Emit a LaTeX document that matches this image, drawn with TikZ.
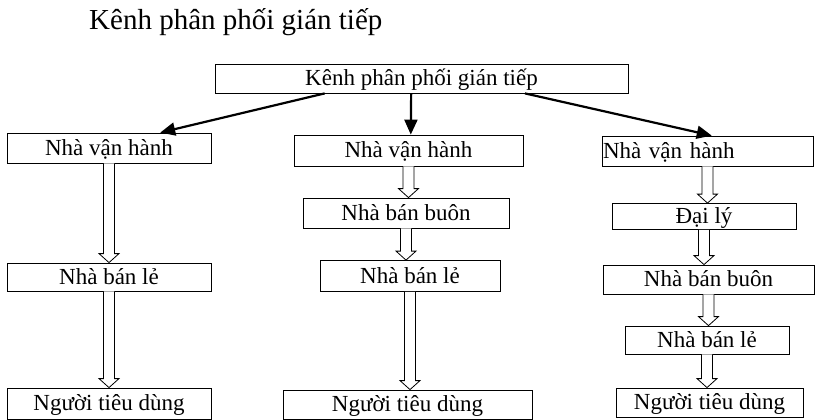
\documentclass[tikz,border=0pt]{standalone}
\usepackage{fontspec}
\setmainfont{Liberation Serif}
\usetikzlibrary{calc,arrows.meta}

% Block arrow between two stacked boxes: outline only, shaft + head
\newcommand\hollowarrow[2]{%
  \draw[hollow] let \p1=(#1.south), \p2=(#2.north) in
    (\x1-5.5pt,\y1) -- (\x1-5.5pt,\y2+9pt) -- (\x1-10pt,\y2+9pt) -- (\x1,\y2)
    -- (\x1+10pt,\y2+9pt) -- (\x1+5.5pt,\y2+9pt) -- (\x1+5.5pt,\y1);}

\begin{document}
\begin{tikzpicture}[x=1pt,y=-1pt,
  box/.style={draw, line width=0.8pt, inner xsep=1pt, inner ysep=0pt,
    font=\fontsize{23}{26}\selectfont, text height=18pt, text depth=4pt},
  hollow/.style={draw, line width=0.8pt, fill=white},
  feed/.style={line width=2.2pt, -{Triangle[length=15pt,width=13pt]}}]
\useasboundingbox (0,0) rectangle (815,420);

% heading
\node[anchor=base west, inner sep=0pt, font=\fontsize{29}{32}\selectfont] (title) at (89,30) {Kênh phân phối gián tiếp};

% root
\node[box, minimum width=413pt, minimum height=29pt] (top) at (421.5,78.5) {Kênh phân phối gián tiếp};

% left chain
\node[box, minimum width=204pt, minimum height=30pt] (l1) at (109,148) {Nhà vận hành};
\node[box, minimum width=204pt, minimum height=28pt] (l2) at (109,277) {Nhà bán lẻ};
\node[box, minimum width=204pt, minimum height=31pt] (l3) at (109,403.5) {Người tiêu dùng};

% middle chain
\node[box, minimum width=229pt, minimum height=31pt] (m1) at (408.5,150.5) {Nhà vận hành};
\node[box, minimum width=206pt, minimum height=30pt] (m2) at (406,213) {Nhà bán buôn};
\node[box, minimum width=180pt, minimum height=31pt] (m3) at (410,276) {Nhà bán lẻ};
\node[box, minimum width=249pt, minimum height=29pt] (m4) at (407.5,404.5) {Người tiêu dùng};

% right chain
\node[box, minimum width=211pt, minimum height=30pt, text width=209pt, align=left] (r1) at (707.5,151) {Nhà vận hành};
\node[box, minimum width=184pt, minimum height=26pt] (r2) at (704,216.5) {Đại lý};
\node[box, minimum width=211pt, minimum height=29pt] (r3) at (708.5,279.5) {Nhà bán buôn};
\node[box, minimum width=164pt, minimum height=28pt] (r4) at (707,340) {Nhà bán lẻ};
\node[box, minimum width=187pt, minimum height=29pt] (r5) at (709.5,402.5) {Người tiêu dùng};

% root to the three chains
\draw[feed] ($(top.south west)!0.266!(top.south east)$) -- ($(l1.north west)!0.75!(l1.north east)$);
\draw[feed] ($(top.south west)!0.475!(top.south east)$) -- ($(m1.north west)!0.51!(m1.north east)$);
\draw[feed] ($(top.south west)!0.75!(top.south east)$) -- ($(r1.north west)!0.52!(r1.north east)$);

% steps within each chain
\hollowarrow{l1}{l2}
\hollowarrow{l2}{l3}
\hollowarrow{m1}{m2}
\hollowarrow{m2}{m3}
\hollowarrow{m3}{m4}
\hollowarrow{r1}{r2}
\hollowarrow{r2}{r3}
\hollowarrow{r3}{r4}
\hollowarrow{r4}{r5}
\end{tikzpicture}
\end{document}
